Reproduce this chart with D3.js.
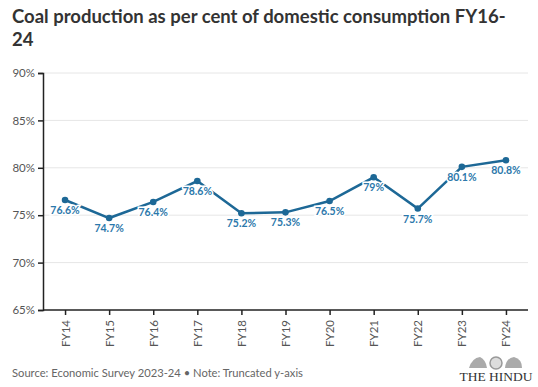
<!DOCTYPE html>
<html>
<head>
<meta charset="utf-8">
<script src="https://cdn.jsdelivr.net/npm/d3@7"></script>
<style>
  body { margin: 0; background: #fff; }
  svg { display: block; font-family: "Lato", "Noto Sans", sans-serif; }
</style>
</head>
<body>
<svg id="chart"></svg>
<script>
// data
var years = ["FY14", "FY15", "FY16", "FY17", "FY18", "FY19", "FY20", "FY21", "FY22", "FY23", "FY24"]
var share = [76.6, 74.7, 76.4, 78.6, 75.2, 75.3, 76.5, 79, 75.7, 80.1, 80.8]
var labels = ["76.6%", "74.7%", "76.4%", "78.6%", "75.2%", "75.3%", "76.5%", "79%", "75.7%", "80.1%", "80.8%"]
var yTicks = [65, 70, 75, 80, 85, 90]

var dimensions = {
  width: 538,
  height: 387,
  margin: { top: 73, bottom: 77, right: 10, left: 43 }
}

var blue = "#1d6896"
var labelBlue = "#2b78ab"

var svg = d3.select("#chart")
  .attr("width", dimensions.width)
  .attr("height", dimensions.height)

// title, wrapped like the original
svg.append("text")
  .attr("x", 12).attr("y", 23)
  .style("font-size", "18.5px").style("font-weight", "bold").attr("fill", "#333")
  .text("Coal production as per cent of domestic consumption FY16-")
svg.append("text")
  .attr("x", 12).attr("y", 46)
  .style("font-size", "18.5px").style("font-weight", "bold").attr("fill", "#333")
  .text("24")

var x = d3.scalePoint()
  .domain(years)
  .range([dimensions.margin.left, dimensions.width - dimensions.margin.right])
  .padding(0.5)

var y = d3.scaleLinear()
  .domain([65, 90])
  .range([dimensions.height - dimensions.margin.bottom, dimensions.margin.top])

// gridlines
svg.append("g")
  .selectAll("line")
  .data(yTicks.slice(1))
  .enter().append("line")
    .attr("x1", dimensions.margin.left)
    .attr("x2", dimensions.width - dimensions.margin.right)
    .attr("y1", function(d) { return y(d) })
    .attr("y2", function(d) { return y(d) })
    .attr("stroke", "#e6e6e6")

// y axis
var yAxis = svg.append("g")
  .attr("transform", "translate(" + dimensions.margin.left + ",0)")
  .call(d3.axisLeft(y).tickValues(yTicks).tickSize(5).tickFormat(function(d) { return d + "%" }))
yAxis.select(".domain").attr("stroke", "#222").attr("stroke-width", 1.5)
yAxis.selectAll(".tick line").attr("stroke", "#222").attr("stroke-width", 1.5)
yAxis.selectAll("text")
  .attr("fill", "#555").style("font-size", "11.5px").style("font-family", "Lato, sans-serif")

// x axis
var xAxis = svg.append("g")
  .attr("transform", "translate(0," + (dimensions.height - dimensions.margin.bottom) + ")")
  .call(d3.axisBottom(x).tickSizeOuter(0).tickSize(5))
xAxis.select(".domain").attr("stroke", "#222").attr("stroke-width", 1.5)
  .attr("d", "M" + dimensions.margin.left + ",0H" + (dimensions.width - dimensions.margin.right))
xAxis.selectAll(".tick line").attr("stroke", "#222").attr("stroke-width", 1.5)
xAxis.selectAll("text")
  .attr("transform", "rotate(-90)")
  .attr("text-anchor", "end")
  .attr("x", -10).attr("y", 0).attr("dy", "0.35em")
  .attr("fill", "#555").style("font-size", "11.5px").style("font-family", "Lato, sans-serif")

// line
var line = d3.line()
  .x(function(d, i) { return x(years[i]) })
  .y(function(d) { return y(d) })

svg.append("path")
  .datum(share)
  .attr("fill", "none")
  .attr("stroke", blue)
  .attr("stroke-width", 2.5)
  .attr("d", line)

svg.append("g")
  .selectAll("circle")
  .data(share)
  .enter().append("circle")
    .attr("cx", function(d, i) { return x(years[i]) })
    .attr("cy", function(d) { return y(d) })
    .attr("r", 3.3)
    .attr("fill", blue)

// value labels with white halo
svg.append("g")
  .selectAll("text")
  .data(share)
  .enter().append("text")
    .attr("x", function(d, i) { return x(years[i]) })
    .attr("y", function(d) { return y(d) + 14 })
    .attr("text-anchor", "middle")
    .style("font-size", "10.5px")
    .style("font-weight", "bold")
    .attr("fill", labelBlue)
    .attr("stroke", "#fff")
    .attr("stroke-width", 3)
    .attr("paint-order", "stroke")
    .text(function(d, i) { return labels[i] })

// footer
svg.append("text")
  .attr("x", 12).attr("y", 377)
  .style("font-size", "11.2px").attr("fill", "#666")
  .text("Source: Economic Survey 2023-24 \u2022 Note: Truncated y-axis")

var logo = svg.append("g").attr("transform", "translate(496,0)")
logo.append("text")
  .attr("x", 0).attr("y", 381)
  .attr("text-anchor", "middle")
  .style("font-family", "'Liberation Serif', 'DejaVu Serif', serif")
  .style("font-size", "13.5px")
  .attr("fill", "#333")
  .text("THE HINDU")
// rough emblem above the masthead
logo.append("path")
  .attr("d", "M-27,368 Q-24,358 -16,357 Q-10,360 -9,368 Z")
  .attr("fill", "#aaa")
logo.append("circle").attr("cx", 0).attr("cy", 363).attr("r", 6)
  .attr("fill", "#ddd").attr("stroke", "#999").attr("stroke-width", 1.5)
logo.append("path")
  .attr("d", "M9,368 Q10,358 18,357 Q26,359 26,368 Z")
  .attr("fill", "#aaa")
</script>
</body>
</html>
